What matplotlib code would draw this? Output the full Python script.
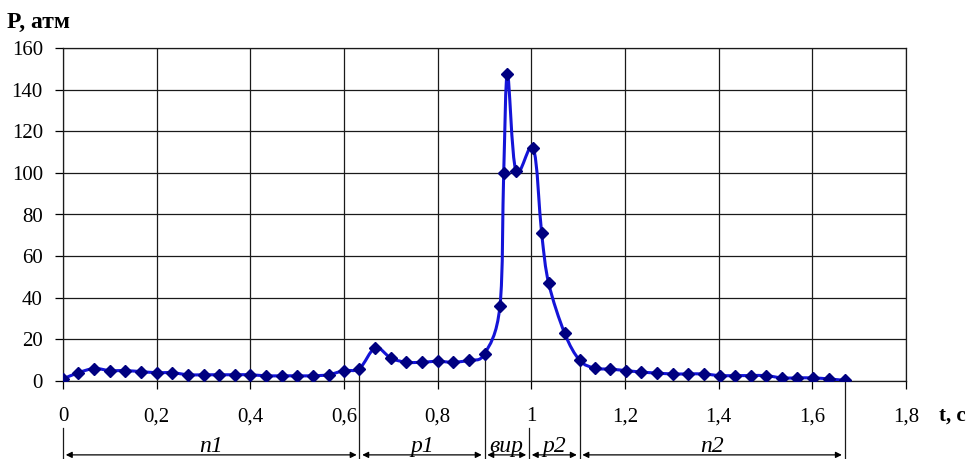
import matplotlib
matplotlib.use('Agg')
import matplotlib.pyplot as plt
from matplotlib.path import Path
from matplotlib.patches import PathPatch
import numpy as np

plt.rcParams['font.family'] = ['Liberation Serif', 'DejaVu Serif']

# время, с и давление, атм
t = [0, 0.033, 0.067, 0.1, 0.133, 0.167, 0.2, 0.233, 0.267, 0.3,
     0.333, 0.367, 0.4, 0.433, 0.467, 0.5, 0.533, 0.567, 0.6, 0.633,
     0.667, 0.7, 0.733, 0.767, 0.8, 0.833, 0.867, 0.9,
     0.933, 0.941, 0.949, 0.967, 1.004, 1.022, 1.037, 1.071, 1.103,
     1.135, 1.169, 1.202, 1.235, 1.268, 1.302, 1.335, 1.368, 1.402,
     1.435, 1.468, 1.501, 1.535, 1.568, 1.601, 1.635, 1.669]
p = [1, 4, 6, 5, 5, 4.5, 4, 4, 3, 3,
     3, 3, 3, 2.5, 2.5, 2.5, 2.5, 3, 5, 6,
     16, 11, 9, 9, 9.5, 9, 10, 13,
     36, 100, 147.5, 101, 112, 71, 47, 23, 10,
     6.2, 5.7, 5, 4.3, 3.8, 3.4, 3.4, 3.4, 2.6,
     2.6, 2.6, 2.6, 1.5, 1.5, 1.5, 1, 0.3]

x_ticks = [0, 0.2, 0.4, 0.6, 0.8, 1.0, 1.2, 1.4, 1.6, 1.8]
x_labels = ['0', '0,2', '0,4', '0,6', '0,8', '1', '1,2', '1,4', '1,6', '1,8']
y_ticks = [0, 20, 40, 60, 80, 100, 120, 140, 160]

# фазы цикла
phase_names = ['п1', 'р1', 'вир', 'р2', 'п2']
phase_bounds = [0, 0.633, 0.9, 0.995, 1.103, 1.669]


def smooth_path(xs, ys):
    """сглаженная линия через точки (кривые Безье, как в Excel)"""
    pts = np.column_stack([xs, ys]).astype(float)
    n = len(pts)
    verts = [pts[0]]
    codes = [Path.MOVETO]
    for i in range(n - 1):
        p0 = pts[max(i - 1, 0)]
        p1 = pts[i]
        p2 = pts[i + 1]
        p3 = pts[min(i + 2, n - 1)]
        verts += [p1 + (p2 - p0) / 6, p2 - (p3 - p1) / 6, p2]
        codes += [Path.CURVE4] * 3
    return Path(verts, codes)


fig = plt.figure(figsize=(9.68, 4.59), dpi=100)
ax = fig.add_axes([63 / 968, 1 - 381 / 459, 843 / 968, 333 / 459])

ax.add_patch(PathPatch(smooth_path(t, p), fill=False, edgecolor='#1414d8',
                       lw=2.2, zorder=3))
ax.plot(t, p, 'D', ls='none', ms=5.8, color='#000080', zorder=4)

ax.set_xlim(0, 1.8)
ax.set_ylim(0, 160)
ax.set_xticks(x_ticks)
ax.set_xticklabels(x_labels)
ax.set_yticks(y_ticks)
ax.grid(True, color='#1a1a1a', lw=0.9)
ax.set_axisbelow(True)
for s in ax.spines.values():
    s.set_color('#1a1a1a')
    s.set_linewidth(0.9)
ax.tick_params(axis='x', direction='out', length=6, width=0.9, labelsize=15, pad=13)
ax.tick_params(axis='y', direction='out', length=6, width=0.9, labelsize=15, pad=8.5)

fig.text(7 / 968, 1 - 22 / 459, 'P, атм', fontsize=17, fontweight='bold', va='center')
fig.text(966 / 968, 1 - 416 / 459, 't, с', fontsize=15, fontweight='bold',
         ha='right', va='center')

# размерные линии фаз под осью
y_dim = -35.5
for i, b in enumerate(phase_bounds):
    if i == 0 or i == 3:
        top = -22.6
    else:
        top = np.interp(b, t, p)
    ax.plot([b, b], [top, -40], color='#1a1a1a', lw=0.9, clip_on=False, zorder=2)

for i, name in enumerate(phase_names):
    b0, b1 = phase_bounds[i], phase_bounds[i + 1]
    ax.annotate('', xy=(b1, y_dim), xytext=(b0, y_dim), annotation_clip=False,
                arrowprops=dict(arrowstyle='<|-|>', color='black', lw=0.9,
                                shrinkA=2, shrinkB=2, mutation_scale=9))
    ax.text((b0 + b1) / 2, -34, name, fontsize=17, style='italic',
            ha='center', va='baseline', clip_on=False)

fig.savefig('out.png', dpi=100)
